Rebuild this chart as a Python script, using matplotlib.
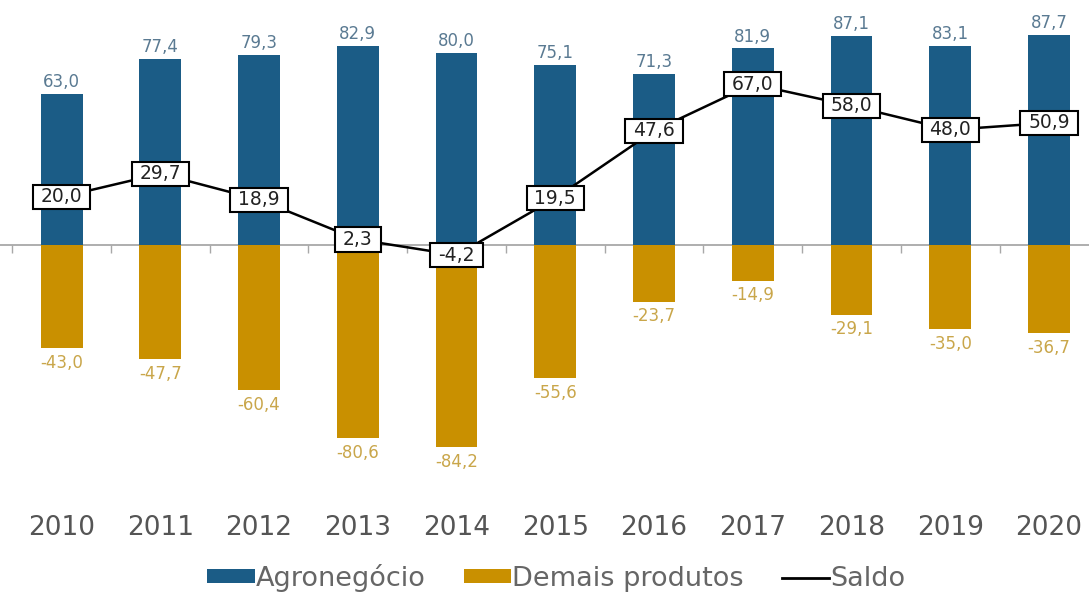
import matplotlib
matplotlib.use("Agg")
import matplotlib.pyplot as plt
from matplotlib.patches import Patch
from matplotlib.lines import Line2D
from matplotlib.path import Path

years = ["2010", "2011", "2012", "2013", "2014", "2015", "2016", "2017", "2018", "2019", "2020"]
agronegocio = [63.0, 77.4, 79.3, 82.9, 80.0, 75.1, 71.3, 81.9, 87.1, 83.1, 87.7]
demais = [-43.0, -47.7, -60.4, -80.6, -84.2, -55.6, -23.7, -14.9, -29.1, -35.0, -36.7]
saldo = [20.0, 29.7, 18.9, 2.3, -4.2, 19.5, 47.6, 67.0, 58.0, 48.0, 50.9]

BLUE = "#1b5c86"
GOLD = "#c99000"

plt.rcParams["font.family"] = ["DejaVu Sans"]


def wide_box(x0, y0, width, height, mutation_size):
    """Rectangular label box with more horizontal than vertical padding."""
    px = 0.42 * mutation_size
    py = 0.14 * mutation_size
    x0, y0 = x0 - px, y0 - py
    x1, y1 = x0 + width + 2 * px, y0 + height + 2 * py
    return Path([(x0, y0), (x1, y0), (x1, y1), (x0, y1), (x0, y0)],
                closed=True)


fig = plt.figure(figsize=(10.89, 5.92), dpi=100)
ax = fig.add_axes([0.0, 1 - 480 / 592, 1.0, 480 / 592])

def fmt(v):
    return f"{v:.1f}".replace(".", ",")

x = list(range(len(years)))
w = 0.425
ax.bar(x, agronegocio, width=w, color=BLUE, zorder=2)
ax.bar(x, demais, width=w, color=GOLD, zorder=2)
ax.axhline(0, color="#a8a8a8", lw=1.3, zorder=1)
ax.vlines([i - 0.5 for i in range(len(years))], -3.3, 0, color="#a8a8a8", lw=1.0, zorder=1)

ax.plot(x, saldo, color="black", lw=1.8, zorder=3)

for xi, a, d, s in zip(x, agronegocio, demais, saldo):
    ax.annotate(fmt(a), (xi, a), xytext=(0, 2), textcoords="offset points",
                ha="center", va="bottom", fontsize=12, color="#5a7a92")
    ax.annotate(fmt(d), (xi, d), xytext=(0, -4), textcoords="offset points",
                ha="center", va="top", fontsize=12, color="#c9a64a")
    ax.text(xi, s, fmt(s), ha="center", va="center", fontsize=13.5, color="#222222",
            zorder=4,
            bbox=dict(boxstyle=wide_box, facecolor="white", edgecolor="black", lw=1.5))

ax.set_xlim(-0.623, 10.405)
ax.set_ylim(-(480 - 245) / 2.40, 245 / 2.40)
ax.set_xticks(x)
ax.set_xticklabels(years, fontsize=19, color="#555555")
ax.tick_params(axis="x", length=0, pad=25)
ax.set_yticks([])
for sp in ax.spines.values():
    sp.set_visible(False)

handles = [Patch(facecolor=BLUE, edgecolor="none", label="Agronegócio"),
           Patch(facecolor=GOLD, edgecolor="none", label="Demais produtos"),
           Line2D([0], [0], color="black", lw=2.0, label="Saldo")]
fig.legend(handles=handles, loc="center", bbox_to_anchor=(0.511, 1 - 578 / 592), ncol=3,
           frameon=False, fontsize=19.5, handlelength=1.75, handleheight=0.42,
           handletextpad=0.05, columnspacing=1.4, labelcolor="#666666")

fig.savefig("out.png", dpi=100)
